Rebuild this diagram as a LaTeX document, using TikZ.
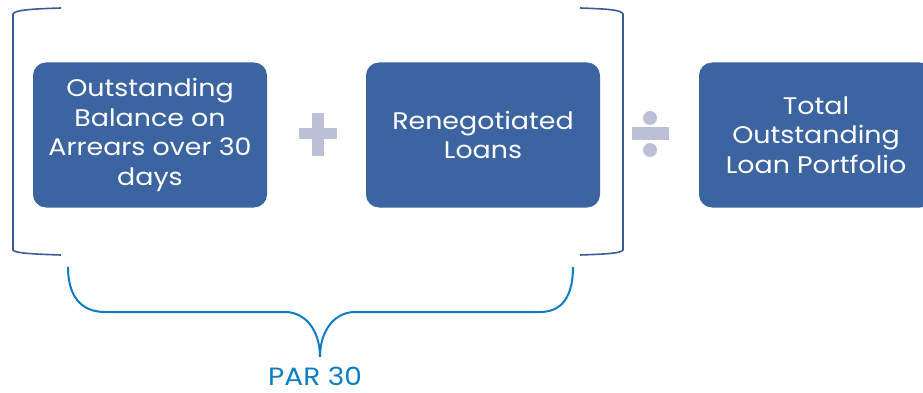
\documentclass[tikz,border=0pt]{standalone}
\usepackage{fontspec}
\setmainfont{Poppins}[FakeStretch=1.12]
\definecolor{boxblue}{HTML}{3B64A0}
\definecolor{bracketblue}{HTML}{3A5E98}
\definecolor{braceblue}{HTML}{0B7DC5}
\definecolor{opgray}{HTML}{BCC0D6}
\tikzset{
  termbox/.style={rectangle, rounded corners=13pt, fill=boxblue, text=white,
    minimum width=234pt, minimum height=145pt, align=center, inner sep=0pt,
    font=\fontsize{24}{29.5}\selectfont},
  bracketline/.style={draw=bracketblue, line width=1.6pt},
  braceline/.style={draw=braceblue, line width=2pt},
}
\begin{document}
\begin{tikzpicture}[x=1pt,y=-1pt]
\useasboundingbox (0,0) rectangle (923,393);
\begin{scope}
\clip (0,0) rectangle (923,393);
% the three terms of the ratio
\node[termbox] (arrears) at (150,135) {Outstanding\\Balance on\\Arrears over 30\\days};
\node[termbox] (reneg) at (483,135) {Renegotiated\\Loans};
\node[termbox] (total) at (816,135) {Total\\Outstanding\\Loan Portfolio};
\end{scope}
% plus sign
\fill[opgray] (299,128) rectangle (337,139);
\fill[opgray] (312,113) rectangle (324,156);
% division sign
\fill[opgray] (632,127) rectangle (669,140);
\fill[opgray] (650,118) circle (7);
\fill[opgray] (650,150) circle (7);
% square brackets around the numerator
\draw[bracketline] (61,8) .. controls (30,9) and (15,10) .. (13,14) -- (13,250)
  .. controls (15,253) and (30,254) .. (61,255);
\draw[bracketline] (580,8) .. controls (610,9) and (621,10) .. (623,14) -- (623,250)
  .. controls (621,253) and (610,254) .. (580,255);
% curly brace under the numerator
\draw[braceline] (68,267) .. controls (68,295) and (80,312) .. (105,312) -- (285,312)
  .. controls (305,312) and (320,330) .. (320,357)
  .. controls (320,330) and (335,312) .. (355,312) -- (540,312)
  .. controls (563,312) and (573,295) .. (573,267);
\node[text=braceblue, font=\fontsize{25}{30}\selectfont, anchor=base, inner sep=0pt] (par) at (315,385) {PAR 30};
\end{tikzpicture}
\end{document}
